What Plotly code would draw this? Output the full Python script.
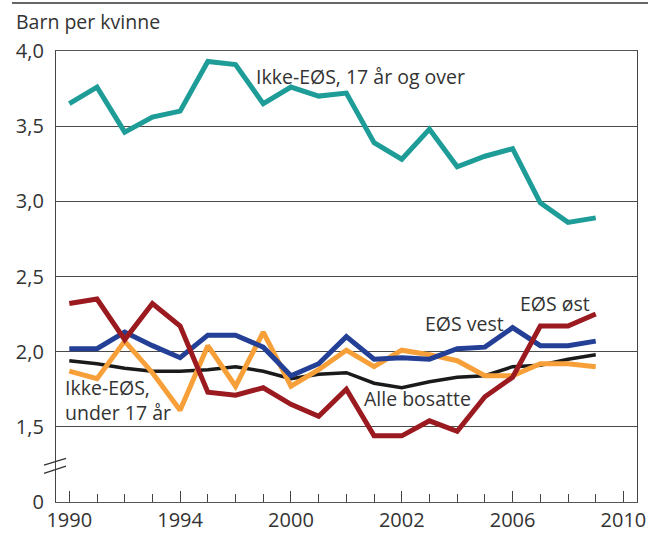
import plotly.graph_objects as go

years = list(range(1990, 2010))

ikke_eos_17_over = [3.65, 3.76, 3.46, 3.56, 3.60, 3.93, 3.91, 3.65, 3.76, 3.70,
                    3.72, 3.39, 3.28, 3.48, 3.23, 3.30, 3.35, 2.99, 2.86, 2.89]
eos_ost = [2.32, 2.35, 2.08, 2.32, 2.17, 1.73, 1.71, 1.76, 1.65, 1.57,
           1.75, 1.44, 1.44, 1.54, 1.47, 1.70, 1.83, 2.17, 2.17, 2.25]
eos_vest = [2.02, 2.02, 2.13, 2.04, 1.96, 2.11, 2.11, 2.03, 1.84, 1.92,
            2.10, 1.95, 1.96, 1.95, 2.02, 2.03, 2.16, 2.04, 2.04, 2.07]
ikke_eos_under_17 = [1.87, 1.82, 2.07, 1.86, 1.61, 2.04, 1.77, 2.13, 1.77, 1.88,
                     2.01, 1.90, 2.01, 1.98, 1.94, 1.84, 1.84, 1.92, 1.92, 1.90]
alle_bosatte = [1.94, 1.92, 1.89, 1.87, 1.87, 1.88, 1.90, 1.87, 1.82, 1.85,
                1.86, 1.79, 1.76, 1.80, 1.83, 1.84, 1.90, 1.91, 1.95, 1.98]

x_tickvals = [1990, 1994, 1998, 2002, 2006, 2010]
x_ticktext = ["1990", "1994", "2000", "2002", "2006", "2010"]
y_tickvals = [1.0, 1.5, 2.0, 2.5, 3.0, 3.5, 4.0]
y_ticktext = ["0", "1,5", "2,0", "2,5", "3,0", "3,5", "4,0"]

FONT = "Open Sans"
TXT = "#333333"

series = [
    ("Alle bosatte", alle_bosatte, "#1a1a1a", 3.5),
    ("Ikke-EØS, under 17 år", ikke_eos_under_17, "#f7a03a", 5),
    ("EØS vest", eos_vest, "#233f96", 5),
    ("EØS øst", eos_ost, "#9a1a20", 5),
    ("Ikke-EØS, 17 år og over", ikke_eos_17_over, "#1e9c97", 5),
]

fig = go.Figure()
for name, vals, color, w in series:
    fig.add_trace(go.Scatter(x=years, y=vals, mode="lines", name=name,
                             line=dict(color=color, width=w), showlegend=False))

labels = [
    ("Ikke-EØS, 17 år og over", 1996.65, 3.83),
    ("EØS vest", 2002.75, 2.19),
    ("EØS øst", 2006.2, 2.32),
    ("Alle bosatte", 2000.58, 1.69),
    ("Ikke-EØS,<br>under 17 år", 1989.78, 1.68),
]
for text, x, y in labels:
    fig.add_annotation(x=x, y=y, xref="x", yref="y", text=text, showarrow=False,
                       xanchor="left", yanchor="middle", align="left",
                       font=dict(family=FONT, size=19.5, color=TXT))

# top rule
fig.add_shape(type="line", xref="paper", yref="paper", x0=-0.0757, x1=1.02,
              y0=1.1064, y1=1.1064, line=dict(color="#666666", width=2))
# axis break marks
fig.add_shape(type="line", xref="paper", yref="y", x0=-0.0207, x1=0.0172,
              y0=1.245, y1=1.290, line=dict(color="#333333", width=1.3))
fig.add_shape(type="line", xref="paper", yref="y", x0=-0.0207, x1=0.0172,
              y0=1.190, y1=1.239, line=dict(color="#333333", width=1.3))

fig.update_layout(
    width=648, height=533,
    margin=dict(l=56, r=11, t=51, b=31, autoexpand=False),
    paper_bgcolor="white", plot_bgcolor="white",
    font=dict(family=FONT, color=TXT),
    title=dict(text="Barn per kvinne", xref="container", yref="container",
               x=16 / 648, y=1 - 22 / 533, xanchor="left", yanchor="middle",
               font=dict(family=FONT, size=19.5, color=TXT)),
    xaxis=dict(range=[1989.52, 2010.49], tickvals=x_tickvals, ticktext=x_ticktext,
               ticks="inside", ticklen=11, tickwidth=1, tickcolor="#444444",
               minor=dict(ticks="inside", ticklen=8, tickwidth=1, tickcolor="#444444",
                          tick0=1990, dtick=1),
               showgrid=False, zeroline=False, showline=True, linecolor="#555555",
               linewidth=1.2, mirror=True, automargin=False,
               tickfont=dict(size=20, family=FONT, color=TXT)),
    yaxis=dict(range=[1.0, 4.0], tickvals=y_tickvals, ticktext=y_ticktext,
               ticks="", showgrid=True, gridcolor="#4a4a4a", gridwidth=1,
               zeroline=False, showline=True, linecolor="#444444", linewidth=1.2,
               mirror=True, ticklabelstandoff=7, automargin=False,
               tickfont=dict(size=20, family=FONT, color=TXT)),
)

fig.write_html("out.html", config={"displayModeBar": False},
               post_script="document.body.style.margin='0';document.body.style.overflow='hidden';")
